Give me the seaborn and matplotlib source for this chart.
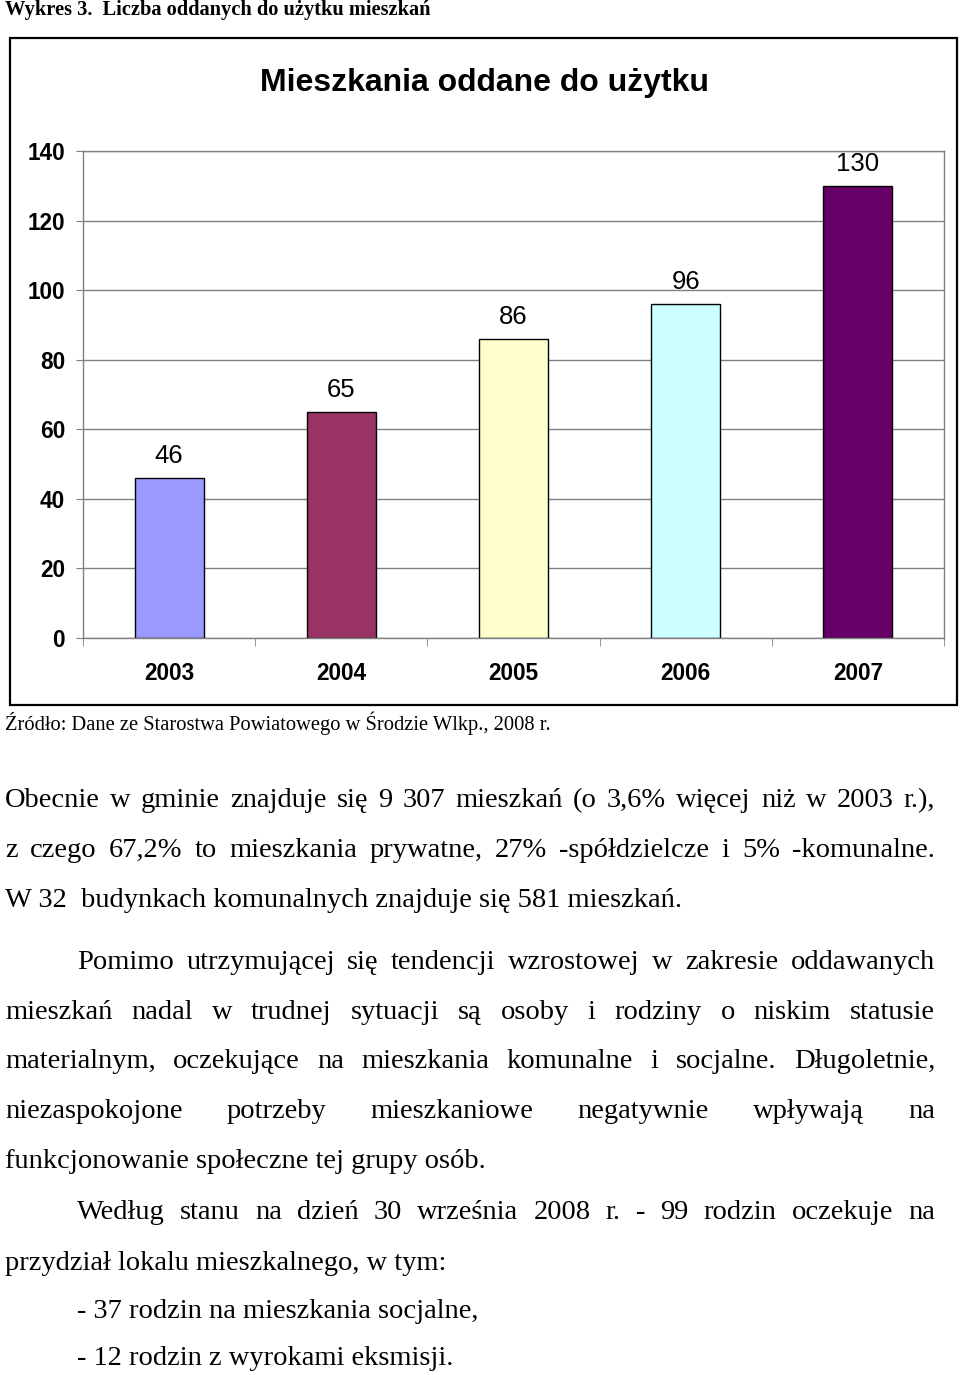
import matplotlib
matplotlib.use("Agg")
import matplotlib.pyplot as plt
import matplotlib.patches as patches
import seaborn as sns
import pandas as pd

# chart data
years = ["2003", "2004", "2005", "2006", "2007"]
flats = [46, 65, 86, 96, 130]
bar_colors = ["#9999FF", "#993366", "#FFFFCC", "#CCFFFF", "#660066"]
y_ticks = [0, 20, 40, 60, 80, 100, 120, 140]

caption = "Wykres 3.  Liczba oddanych do użytku mieszkań"
chart_title = "Mieszkania oddane do użytku"
source = "Źródło: Dane ze Starostwa Powiatowego w Środzie Wlkp., 2008 r."

# page text: (left px, baseline px, text, justified?)
body = [
    (5, 807, "Obecnie w gminie znajduje się 9 307 mieszkań (o 3,6% więcej niż w 2003 r.),", True),
    (5, 857, "z czego 67,2% to mieszkania prywatne, 27% -spółdzielcze i 5% -komunalne.", True),
    (5, 907, "W 32  budynkach komunalnych znajduje się 581 mieszkań.", False),
    (77, 969, "Pomimo utrzymującej się tendencji wzrostowej w zakresie oddawanych", True),
    (5, 1019, "mieszkań nadal w trudnej sytuacji są osoby i rodziny o niskim statusie", True),
    (5, 1068, "materialnym, oczekujące na mieszkania komunalne i socjalne. Długoletnie,", True),
    (5, 1118, "niezaspokojone potrzeby mieszkaniowe negatywnie wpływają na", True),
    (5, 1168, "funkcjonowanie społeczne tej grupy osób.", False),
    (77, 1219, "Według stanu na dzień 30 września 2008 r. - 99 rodzin oczekuje na", True),
    (5, 1270, "przydział lokalu mieszkalnego, w tym:", False),
    (77, 1318, "- 37 rodzin na mieszkania socjalne,", False),
    (77, 1365, "- 12 rodzin z wyrokami eksmisji.", False),
]

W, H = 960, 1375
sns.set_style("white")
plt.rcParams['font.family'] = ['Liberation Sans', 'DejaVu Sans']
plt.rcParams['text.color'] = 'black'
plt.rcParams['xtick.labelcolor'] = 'black'
plt.rcParams['ytick.labelcolor'] = 'black'

fig = plt.figure(figsize=(W / 100, H / 100), dpi=100)
fig.patch.set_facecolor("white")


def fx(x):
    return x / W


def fy(y):
    return 1 - y / H


# chart frame box
fig.add_artist(patches.Rectangle((fx(10), fy(705)), fx(957) - fx(10), fy(38) - fy(705),
                                 fill=False, edgecolor="black", linewidth=1.6,
                                 transform=fig.transFigure))

ax = fig.add_axes([fx(83), fy(638), fx(944) - fx(83), fy(151) - fy(638)])
df = pd.DataFrame({"year": years, "flats": flats})
sns.barplot(data=df, x="year", y="flats", hue="year", palette=bar_colors,
            saturation=1, width=0.4, edgecolor="black", linewidth=1,
            legend=False, ax=ax)

ax.set_ylim(0, 140)
ax.set_xlim(-0.5, len(years) - 0.5)
ax.set_yticks(y_ticks)
ax.grid(axis="y", color="#808080", linewidth=1)
ax.set_axisbelow(True)
for s in ax.spines.values():
    s.set_color("#808080")
    s.set_linewidth(1)
ax.set_xlabel("")
ax.set_ylabel("")

ax.tick_params(axis="y", left=True, length=5, color="#808080", pad=8,
               labelsize=16.3, direction="out")
ax.tick_params(axis="x", which="major", length=0, pad=17, labelsize=16.3)
ax.set_xticks([i - 0.5 for i in range(len(years) + 1)], minor=True)
ax.tick_params(axis="x", which="minor", bottom=True, length=6, color="#808080",
               direction="out")
for lab in ax.get_xticklabels() + ax.get_yticklabels():
    lab.set_fontweight("bold")

for i, v in enumerate(flats):
    ax.annotate(str(v), (i, v), xytext=(0, 11), textcoords="offset points",
                ha="center", va="baseline", fontsize=18.5, color="black")

fig.text(fx(484), fy(91), chart_title, ha="center", va="baseline",
         fontsize=23, fontweight="bold")

serif = ['Liberation Serif', 'DejaVu Serif']
fig.text(fx(5), fy(15), caption, ha="left", va="baseline", fontsize=14.7,
         fontweight="bold", family=serif)
fig.text(fx(5), fy(730), source, ha="left", va="baseline", fontsize=14.75,
         family=serif)

renderer = fig.canvas.get_renderer()
body_size = 20.5
right_edge = 935
for x0, yb, line, justify in body:
    if not justify:
        fig.text(fx(x0), fy(yb), line, ha="left", va="baseline",
                 fontsize=body_size, family=serif)
        continue
    words = line.split()
    texts = [fig.text(0, 0, w, fontsize=body_size, family=serif, va="baseline")
             for w in words]
    widths = [t.get_window_extent(renderer).width for t in texts]
    gap = (right_edge - x0 - sum(widths)) / (len(words) - 1)
    x = x0
    for t, wdt in zip(texts, widths):
        t.set_position((fx(x), fy(yb)))
        x += wdt + gap

fig.savefig("out.png", dpi=100, facecolor="white")
